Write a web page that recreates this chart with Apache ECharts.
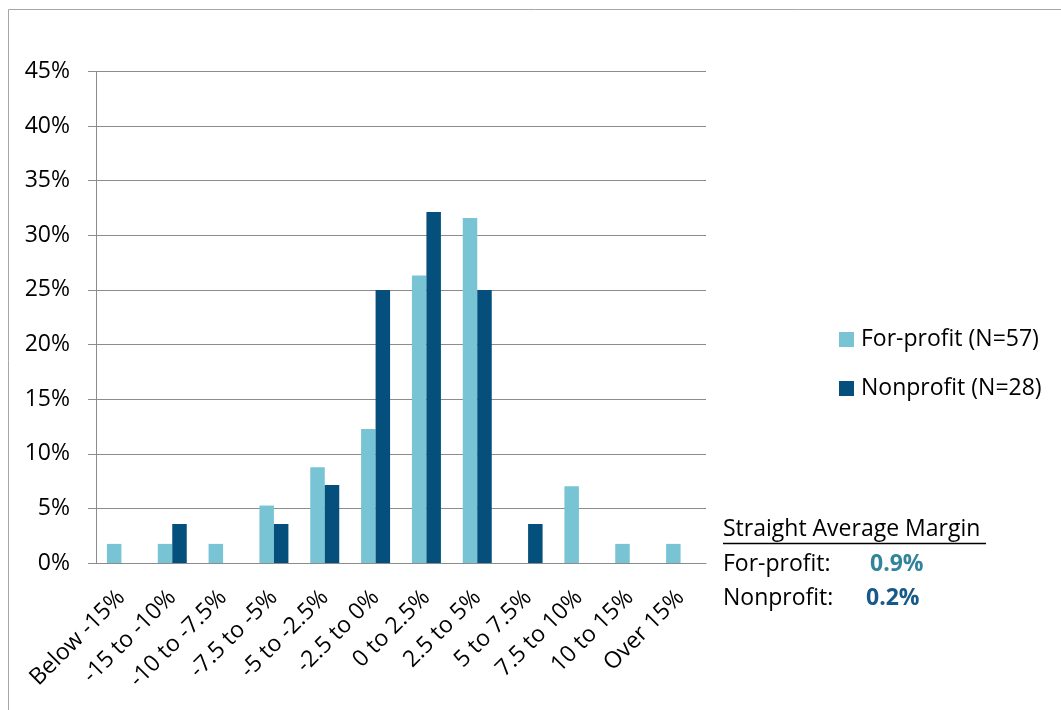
<!DOCTYPE html>
<html>
<head>
<meta charset="utf-8">
<script src="https://cdn.jsdelivr.net/npm/echarts@6/dist/echarts.min.js"></script>
<style>
  html, body { margin: 0; padding: 0; background: #fff; }
  #chart { width: 1061px; height: 710px; }
</style>
</head>
<body>
<div id="chart"></div>
<script>
// Operating margin buckets
const categories = ['Below -15%', '-15 to -10%', '-10 to -7.5%', '-7.5 to -5%', '-5 to -2.5%',
  '-2.5 to 0%', '0 to 2.5%', '2.5 to 5%', '5 to 7.5%', '7.5 to 10%', '10 to 15%', 'Over 15%'];

// Share of facilities in each bucket (%)
const forProfit = [1.75, 1.75, 1.75, 5.26, 8.77, 12.28, 26.32, 31.58, 0, 7.02, 1.75, 1.75];
const nonprofit = [0, 3.57, 0, 3.57, 7.14, 25.0, 32.14, 25.0, 3.57, 0, 0, 0];

const seriesNames = ['For-profit (N=57)', 'Nonprofit (N=28)'];
const avgLabels = ['For-profit:', 'Nonprofit:'];
const avgValues = ['0.9%', '0.2%'];

const FONT = '"Open Sans", sans-serif';
const FS = 23;
const LIGHT = '#78c4d5';
const DARK = '#054f7c';

const chart = echarts.init(document.getElementById('chart'));
chart.setOption({
  animation: false,
  backgroundColor: '#fff',
  textStyle: { fontFamily: FONT },
  grid: { left: 96, right: 355, top: 71.5, bottom: 147, containLabel: false },
  legend: {
    orient: 'vertical',
    left: 834,
    top: 323,
    itemWidth: 15,
    itemHeight: 15,
    itemGap: 26,
    icon: 'rect',
    textStyle: { fontSize: FS, color: '#000', fontFamily: FONT, padding: [0, 0, 0, 2] },
    data: seriesNames
  },
  xAxis: {
    type: 'category',
    data: categories,
    axisLine: { lineStyle: { color: '#8c8c8c', width: 1 } },
    axisTick: { length: 8, lineStyle: { color: '#8c8c8c' } },
    axisLabel: { rotate: 45, fontSize: FS, color: '#000', margin: 31, interval: 0, fontFamily: FONT }
  },
  yAxis: {
    type: 'value',
    min: 0,
    max: 45,
    interval: 5,
    axisLine: { show: true, lineStyle: { color: '#8c8c8c' } },
    axisTick: { show: true, length: 8, lineStyle: { color: '#8c8c8c' } },
    splitLine: { lineStyle: { color: '#8c8c8c', width: 1 } },
    axisLabel: { formatter: '{value}%', fontSize: FS, color: '#000', margin: 26, fontFamily: FONT }
  },
  series: [
    { name: seriesNames[0], type: 'bar', data: forProfit, barWidth: 14.5, barGap: '0%',
      itemStyle: { color: LIGHT } },
    { name: seriesNames[1], type: 'bar', data: nonprofit, barWidth: 14.5, barGap: '0%',
      itemStyle: { color: DARK } }
  ],
  graphic: [
    { type: 'rect', shape: { x: 8.5, y: 9.5, width: 1200, height: 900 },
      style: { fill: 'none', stroke: '#a6a6a6', lineWidth: 1 }, z: -1, silent: true },
    { type: 'text', left: 723, top: 518,
      style: { text: 'Straight Average Margin', font: FS + 'px ' + FONT, fill: '#000' } },
    { type: 'line', shape: { x1: 723, y1: 543.5, x2: 986, y2: 543.5 },
      style: { stroke: '#000', lineWidth: 1.5 } },
    { type: 'text', left: 723, top: 553,
      style: { text: avgLabels[0], font: FS + 'px ' + FONT, fill: '#000' } },
    { type: 'text', left: 870, top: 553,
      style: { text: avgValues[0], font: 'bold ' + FS + 'px ' + FONT, fill: '#31849b' } },
    { type: 'text', left: 723, top: 587,
      style: { text: avgLabels[1], font: FS + 'px ' + FONT, fill: '#000' } },
    { type: 'text', left: 866, top: 587,
      style: { text: avgValues[1], font: 'bold ' + FS + 'px ' + FONT, fill: '#17598a' } }
  ]
});
</script>
</body>
</html>
